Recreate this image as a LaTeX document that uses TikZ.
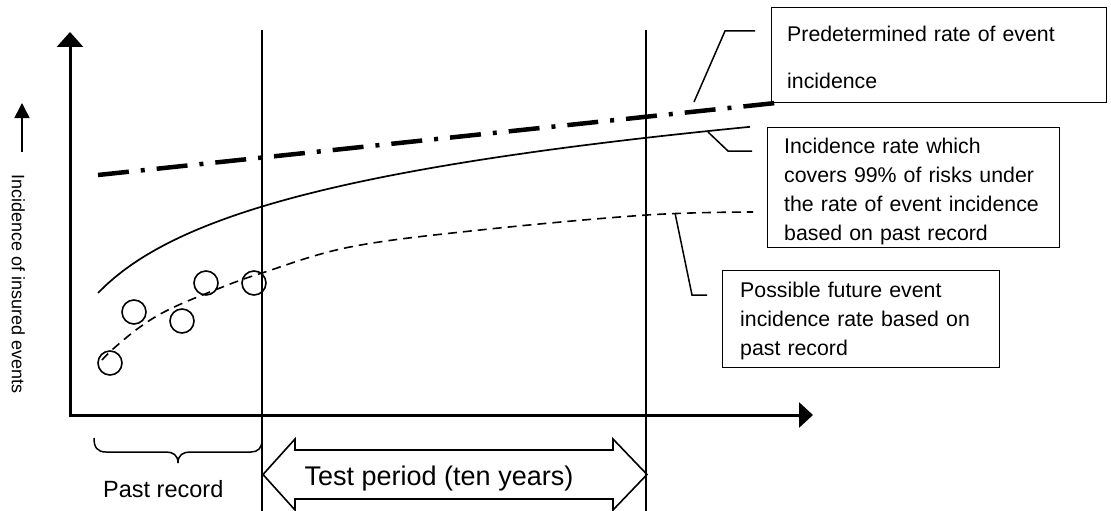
\documentclass[tikz,border=0pt]{standalone}
\usepackage{fontspec}
\setmainfont{Liberation Sans}
\usetikzlibrary{arrows.meta}
\begin{document}
\begin{tikzpicture}[x=1pt,y=-1pt,
  thinline/.style={line width=1.5pt},
  axisline/.style={line width=3pt},
  boxnode/.style={draw, line width=1.4pt, anchor=north west, inner sep=0pt},
  boxtext/.style={anchor=base west, inner sep=0pt, align=left},
  dotc/.style={draw, circle, minimum size=24pt, inner sep=0pt, line width=1.6pt},
]
\useasboundingbox (0,0) rectangle (1111,511);

% axes
\coordinate (origin) at (70,415);
\coordinate (ytip) at (70,32);
\coordinate (xtip) at (813,415);
\draw[axisline, {Triangle[length=15pt,width=26pt]}-{Triangle[length=14pt,width=25pt]}] (ytip) -- (origin) -- (xtip);

% small arrow and y label
\coordinate (sa0) at (22,152);
\coordinate (sa1) at (22,103);
\draw[thinline, -{Triangle[length=15pt,width=15pt]}] (sa0) -- (sa1);
\node[rotate=-90, anchor=base, inner sep=0pt, font=\fontsize{18}{22}\selectfont] (ylab) at (12,284) {Incidence of insured events};

% vertical lines
\coordinate (v1t) at (262,30); \coordinate (v1b) at (262,511);
\coordinate (v2t) at (646,30); \coordinate (v2b) at (646,511);
\draw[thinline] (v1t) -- (v1b);
\draw[thinline] (v2t) -- (v2b);

% predetermined rate (dash-dot)
\coordinate (pr0) at (98,175);
\coordinate (pr1) at (785,102);
\draw[line width=4.5pt, dash pattern=on 31pt off 12pt on 4pt off 12pt] (pr0) -- (pr1);

% 99% curve (solid)
\draw[line width=1.7pt] plot[domain=98:750, samples=80] (\x, {590 - 70.4*ln(\x-30)});

% expected curve (dashed)
\draw[line width=1.6pt, dash pattern=on 9pt off 6pt] plot[smooth, tension=0.6] coordinates {(102,360) (113,349) (140,327) (170,309) (220,288) (262,273) (350,247) (480,230) (647,215) (753,212)};

% past record points
\node[dotc] (c1) at (110,363) {};
\node[dotc] (c2) at (134,312) {};
\node[dotc] (c3) at (182,321) {};
\node[dotc] (c4) at (206,283) {};
\node[dotc] (c5) at (254,283) {};

% boxes
\node[boxnode, minimum width=335pt, minimum height=95pt] (box1) at (771,7) {};
\node[boxnode, minimum width=292pt, minimum height=120pt] (box2) at (767,127) {};
\node[boxnode, minimum width=277pt, minimum height=97pt] (box3) at (722,270) {};

\node[boxtext, text width=315pt, font=\fontsize{21.3}{47}\selectfont] (t1) at (787,42) {Predetermined rate of event\\incidence};
\node[boxtext, text width=275pt, font=\fontsize{21.3}{29.3}\selectfont] (t2) at (784,153) {Incidence rate which\\covers 99\% of risks under\\the rate of event incidence\\based on past record};
\node[boxtext, text width=255pt, font=\fontsize{21.3}{29}\selectfont] (t3) at (740,297) {Possible future event\\incidence rate based on\\past record};

% leaders
\coordinate (l1a) at (755,31); \coordinate (l1b) at (725,31); \coordinate (l1c) at (694,102);
\draw[thinline] (l1a) -- (l1b) -- (l1c);
\coordinate (l2a) at (752,151); \coordinate (l2b) at (728,151); \coordinate (l2c) at (708,132);
\draw[thinline] (l2a) -- (l2b) -- (l2c);
\coordinate (l3a) at (707,295); \coordinate (l3b) at (692,295); \coordinate (l3c) at (675,213);
\draw[thinline] (l3a) -- (l3b) -- (l3c);

% brace
\draw[thinline] (94,438) .. controls (94,447) and (97,452) .. (106,452) -- (166,452)
  .. controls (173,452) and (178,455) .. (178,463)
  .. controls (178,455) and (183,452) .. (190,452) -- (251,452)
  .. controls (258,452) and (262,448) .. (262,440);
\node[anchor=base west, inner sep=0pt, font=\fontsize{23.5}{28}\selectfont] (past) at (103,497) {Past record};

% test period double arrow
\draw[line width=1.6pt] (263,474.5) -- (295,439) -- (295,450) -- (613,450) -- (613,439) -- (647,474.5) -- (613,510) -- (613,499) -- (295,499) -- (295,510) -- cycle;
\node[anchor=base, inner sep=0pt, font=\fontsize{27}{32}\selectfont] (test) at (439,485) {Test period (ten years)};
\end{tikzpicture}
\end{document}
